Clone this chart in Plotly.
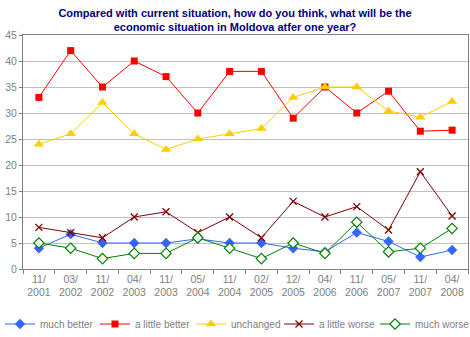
import plotly.graph_objects as go

categories = ["11/<br>2001", "03/<br>2002", "11/<br>2002", "04/<br>2003", "11/<br>2003",
              "05/<br>2004", "11/<br>2004", "02/<br>2005", "12/<br>2005", "04/<br>2006",
              "11/<br>2006", "05/<br>2007", "11/<br>2007", "04/<br>2008"]

much_better = [4, 6.7, 5, 5, 5, 5.8, 5, 5, 4, 3.3, 7, 5.3, 2.3, 3.65]
little_better = [33, 42, 35, 40, 37, 30, 38, 38, 29, 35, 30, 34.2, 26.5, 26.7]
unchanged = [24, 26, 32, 26, 23, 25, 26, 27, 33, 35, 35, 30.4, 29.2, 32.2]
little_worse = [8, 7, 6, 10, 11, 7, 10, 6, 13, 10, 12, 7.5, 18.7, 10.2]
much_worse = [5, 4, 2, 3, 3, 6, 4, 2, 5, 3, 9, 3.3, 4, 7.8]

series = [
    ("much better", much_better, "#3366FF", dict(symbol="diamond", size=8, color="#3366FF", line=dict(width=0))),
    ("a little better", little_better, "#FF0000", dict(symbol="square", size=7, color="#FF0000", line=dict(width=0))),
    ("unchanged", unchanged, "#FFCC00", dict(symbol="triangle-up", size=9, color="#FFCC00", line=dict(width=0))),
    ("a little worse", little_worse, "#800000", dict(symbol="x-thin-open", size=7, color="#800000", line=dict(width=1.3, color="#800000"))),
    ("much worse", much_worse, "#008000", dict(symbol="diamond", size=8, color="white", line=dict(width=1.2, color="#008000"))),
]

legend_x = [0, 95, 191, 279, 375]

fig = go.Figure()
for i, (name, vals, col, mk) in enumerate(series):
    lg = "legend" if i == 0 else f"legend{i+1}"
    fig.add_trace(go.Scatter(x=categories, y=vals, name=name, mode="lines+markers",
                             line=dict(color=col, width=1), marker=mk, legend=lg))

font_family = "Liberation Sans, Arial, sans-serif"
legends = {}
for i, lx in enumerate(legend_x):
    key = "legend" if i == 0 else f"legend{i+1}"
    legends[key] = dict(x=lx / 470, xref="container", xanchor="left",
                        y=(337 - 324) / 337, yref="container", yanchor="middle",
                        bgcolor="rgba(0,0,0,0)", borderwidth=0,
                        font=dict(family=font_family, size=10, color="#808080"))

fig.update_layout(
    width=470, height=337,
    margin=dict(l=23, r=2, t=35, b=68, autoexpand=False),
    paper_bgcolor="white", plot_bgcolor="white",
    showlegend=True,
    title=dict(text="Compared with current situation, how do you think, what will be the<br>economic situation in Moldova atfer one year?",
               x=0.5, xanchor="center", y=1 - 17 / 337, yanchor="top", yref="container",
               font=dict(family=font_family, size=11, color="#000080", weight="bold")),
    xaxis=dict(type="category", range=[-0.5, 13.5], showgrid=False, showline=True, mirror=True,
               linecolor="#808080", linewidth=1, ticks="outside", tickson="boundaries", ticklen=4,
               tickangle=0,
               tickcolor="#808080", tickfont=dict(family=font_family, size=10.5, color="#808080"),
               fixedrange=True),
    yaxis=dict(range=[0, 45], dtick=5, showgrid=True, gridcolor="#C0C0C0", gridwidth=1,
               showline=True, mirror=True, linecolor="#808080", linewidth=1, ticks="outside",
               ticklen=3, tickcolor="#808080", zeroline=False,
               tickfont=dict(family=font_family, size=10.5, color="#808080")),
    **legends,
)

fig.write_html("out.html")
